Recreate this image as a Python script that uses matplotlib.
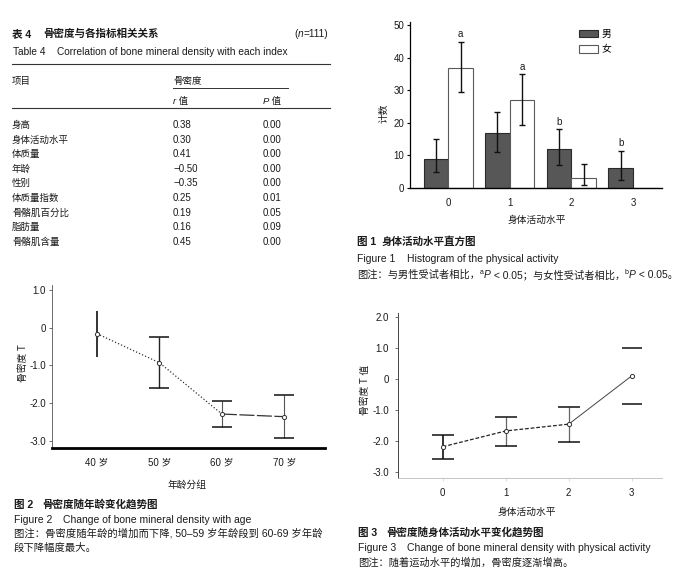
import matplotlib
matplotlib.use('Agg')
import matplotlib.pyplot as plt
from matplotlib.lines import Line2D
import numpy as np

plt.rcParams['font.family'] = ['Liberation Sans', 'Noto Sans CJK SC', 'DejaVu Sans']
plt.rcParams['axes.unicode_minus'] = False

W, H = 685, 581

# ---------------------------------------------------------------
# Données
# ---------------------------------------------------------------
# Tableau 4
tab_items = ['身高', '身体活动水平', '体质量', '年龄', '性别', '体质量指数', '骨骼肌百分比', '脂肪量', '骨骼肌含量']
tab_r = ['0.38', '0.30', '0.41', '−0.50', '−0.35', '0.25', '0.19', '0.16', '0.45']
tab_p = ['0.00', '0.00', '0.00', '0.00', '0.00', '0.01', '0.05', '0.09', '0.00']

# Figure 1 : histogramme
act_levels = ['0', '1', '2', '3']
male_cnt = np.array([9, 17, 12, 6])
male_lo = np.array([5, 11, 7, 2.5])
male_hi = np.array([15, 23.5, 18, 11.5])
female_cnt = np.array([37, 27, 3, 0])
female_lo = np.array([29.5, 19.5, 1, np.nan])
female_hi = np.array([45, 35, 7.5, np.nan])
sig_letter = ['a', 'a', 'b', 'b']
sig_series = ['female', 'female', 'male', 'male']
hist_yticks = [0, 10, 20, 30, 40, 50]

# Figure 2 : âge
age_groups = ['40 岁', '50 岁', '60 岁', '70 岁']
age_mean = [-0.16, -0.93, -2.29, -2.36]
age_lo = [-0.77, -1.60, -2.63, -2.93]
age_hi = [0.43, -0.25, -1.95, -1.79]
age_yticks = [1.0, 0, -1.0, -2.0, -3.0]
age_ylabels = ['1.0', '0', '-1.0', '-2.0', '-3.0']

# Figure 3 : activité physique
act_mean = [-2.19, -1.68, -1.46, 0.10]
act_lo = [-2.60, -2.16, -2.05, -0.82]
act_hi = [-1.82, -1.22, -0.90, 0.99]
act_yticks = [2.0, 1.0, 0, -1.0, -2.0, -3.0]
act_ylabels = ['2.0', '1.0', '0', '-1.0', '-2.0', '-3.0']

TXT = '#1a1a1a'
EN = 7.45   # taille des légendes en anglais
NOTE = 7.35

fig = plt.figure(figsize=(W / 100, H / 100), dpi=100)
renderer = fig.canvas.get_renderer()


def px(x, y):
    return x / W, 1 - y / H


def rich(x, y, parts, size=7.3, align='left', **kw):
    # texte composé de morceaux (italique, exposant...) posés à la suite
    texts = []
    cx = x
    for s, opts in parts:
        o = dict(kw)
        o.update(opts)
        fs = o.pop('size', size)
        dy = o.pop('dy', 0)
        t = fig.text(*px(cx, y - dy), s, fontsize=fs, va='baseline', ha='left', color=TXT, **o)
        texts.append((t, dy))
        cx += t.get_window_extent(renderer=renderer).width
    if align == 'right':
        shift = cx - x
        for t, dy in texts:
            tx, ty = t.get_position()
            t.set_position((tx - shift / W, ty))
    return cx


def hline(x0, x1, y, lw=0.8, color='#333333'):
    fig.add_artist(Line2D([x0 / W, x1 / W], [1 - y / H, 1 - y / H], lw=lw, color=color))


# ---------------------------------------------------------------
# Tableau 4
# ---------------------------------------------------------------
fig.text(*px(12, 37), '表 4', fontsize=7.6, fontweight='bold', va='baseline', color=TXT)
fig.text(*px(43, 37), '骨密度与各指标相关关系', fontsize=7.6, fontweight='bold', va='baseline', color=TXT)
rich(328, 37, [('(', {}), ('n', {'style': 'italic'}), ('=111)', {})], align='right')
fig.text(*px(13, 55), 'Table 4', fontsize=7.3, va='baseline', color=TXT)
fig.text(*px(57, 55), 'Correlation of bone mineral density with each index', fontsize=7.3, va='baseline', color=TXT)
hline(12, 330, 64)
fig.text(*px(12, 84), '项目', fontsize=6.8, va='baseline', color=TXT)
fig.text(*px(173, 84), '骨密度', fontsize=6.8, va='baseline', color=TXT)
hline(173, 288, 88, lw=0.7)
rich(173, 104, [('r', {'style': 'italic'}), (' 值', {})], size=6.8)
rich(263, 104, [('P', {'style': 'italic'}), (' 值', {})], size=6.8)
hline(12, 330, 108)

row_y = 128
for item, r, p in zip(tab_items, tab_r, tab_p):
    fig.text(*px(12, row_y), item, fontsize=6.8, va='baseline', color=TXT)
    fig.text(*px(173, row_y), r, fontsize=7.0, va='baseline', color=TXT)
    fig.text(*px(263, row_y), p, fontsize=7.0, va='baseline', color=TXT)
    row_y += 14.6

# ---------------------------------------------------------------
# Figure 1 : histogramme
# ---------------------------------------------------------------
ax1 = fig.add_axes([410 / W, 1 - 188 / H, 252 / W, 166 / H])
x = np.arange(len(act_levels))
bw = 0.4
ax1.bar(x - bw / 2, male_cnt, bw, color='#575757', edgecolor='#2a2a2a', lw=0.8, label='男')
ax1.bar(x + bw / 2, female_cnt, bw, color='white', edgecolor='#5a5a5a', lw=0.8, label='女')
ax1.errorbar(x - bw / 2, male_cnt, yerr=[male_cnt - male_lo, male_hi - male_cnt],
             fmt='none', ecolor='#111111', elinewidth=1.0, capsize=2.5, capthick=1.0)
ax1.errorbar(x + bw / 2, female_cnt, yerr=[female_cnt - female_lo, female_hi - female_cnt],
             fmt='none', ecolor='#111111', elinewidth=1.0, capsize=2.5, capthick=1.0)
for i, (lt, ser) in enumerate(zip(sig_letter, sig_series)):
    if ser == 'male':
        ax1.text(i - bw / 2, male_hi[i] + 2.2, lt, ha='center', va='center', fontsize=7, color=TXT)
    else:
        ax1.text(i + bw / 2, female_hi[i] + 2.2, lt, ha='center', va='center', fontsize=7, color=TXT)
ax1.set_xlim(-0.62, 3.47)
ax1.set_ylim(0, 51)
ax1.set_xticks(x)
ax1.set_xticklabels(act_levels)
ax1.set_yticks(hist_yticks)
ax1.tick_params(axis='x', length=0, pad=7, labelsize=7, labelcolor=TXT)
ax1.tick_params(axis='y', length=2.5, width=0.8, pad=1.5, labelsize=7, labelcolor=TXT)
for s in ['top', 'right']:
    ax1.spines[s].set_visible(False)
ax1.spines['left'].set_linewidth(0.9)
ax1.spines['bottom'].set_linewidth(1.0)
ax1.set_ylabel('计数', fontsize=7, color=TXT, va='center', ha='center')
ax1.yaxis.set_label_coords((383 - 410) / 252, (188 - 113) / 166)
ax1.set_xlabel('身体活动水平', fontsize=7, color=TXT, va='center', ha='center')
ax1.xaxis.set_label_coords((537 - 410) / 252, (188 - 220) / 166)
ax1.legend(loc='upper left', bbox_to_anchor=((579 - 410) / 252, (188 - 29) / 166),
           frameon=False, fontsize=7, handlelength=1.95, handleheight=0.75,
           handletextpad=0.35, labelspacing=0.55, borderpad=0, borderaxespad=0)

rich(357, 245, [('图 1', {'fontweight': 'bold', 'size': 7.6})])
rich(381.5, 245, [('身体活动水平直方图', {'fontweight': 'bold', 'size': 7.6})])
fig.text(*px(357, 262), 'Figure 1', fontsize=EN, va='baseline', color=TXT)
fig.text(*px(407, 262), 'Histogram of the physical activity', fontsize=EN, va='baseline', color=TXT)
rich(357, 278, [('图注：与男性受试者相比，', {}), ('a', {'size': 5, 'dy': 3.5}), ('P', {'style': 'italic'}),
                (' < 0.05；与女性受试者相比，', {}), ('b', {'size': 5, 'dy': 3.5}), ('P', {'style': 'italic'}),
                (' < 0.05。', {})], size=NOTE)

# ---------------------------------------------------------------
# Figure 2 : évolution avec l'âge
# ---------------------------------------------------------------
ax2 = fig.add_axes([52 / W, 1 - 448 / H, 273 / W, 163 / H])
xa = np.arange(len(age_groups))
ax2.plot(xa[:3], age_mean[:3], ls=':', lw=0.9, color='#333333')
ax2.plot(xa[2:], age_mean[2:], ls=(0, (12, 2)), lw=0.9, color='#333333')
age_cap = [0, 7, 7, 7]
age_ecol = ['#111111', '#222222', '#555555', '#555555']
age_elw = [1.2, 1.0, 0.8, 0.8]
for i in range(len(xa)):
    eb = ax2.errorbar(xa[i], age_mean[i], yerr=[[age_mean[i] - age_lo[i]], [age_hi[i] - age_mean[i]]],
                      fmt='none', ecolor='#111111', elinewidth=age_elw[i], capsize=age_cap[i], capthick=1.1)
    eb[2][0].set_color(age_ecol[i])
ax2.plot(xa, age_mean, 'o', ms=3, mfc='white', mec='#333333', mew=0.7)
ax2.set_xlim(-0.72, 3.65)
ax2.set_ylim(-3.19, 1.13)
ax2.set_xticks(xa)
ax2.set_xticklabels(age_groups)
ax2.set_yticks(age_yticks)
ax2.set_yticklabels(age_ylabels)
ax2.tick_params(axis='x', length=0, pad=7, labelsize=7, labelcolor=TXT)
ax2.tick_params(axis='y', length=2, width=0.6, pad=2.5, labelsize=7, labelcolor=TXT, color='#555555')
for s in ['top', 'right']:
    ax2.spines[s].set_visible(False)
ax2.spines['left'].set_linewidth(0.6)
ax2.spines['left'].set_color('#555555')
ax2.spines['bottom'].set_linewidth(2.0)
ax2.spines['bottom'].set_color('black')
ax2.set_ylabel('骨密度 T', fontsize=7, color=TXT, va='center', ha='center')
ax2.yaxis.set_label_coords((23 - 52) / 273, (448 - 363) / 163)
ax2.set_xlabel('年龄分组', fontsize=7, color=TXT, va='center', ha='center')
ax2.xaxis.set_label_coords((187 - 52) / 273, (448 - 485) / 163)

rich(14, 508, [('图 2', {'fontweight': 'bold', 'size': 7.6})])
rich(42.5, 508, [('骨密度随年龄变化趋势图', {'fontweight': 'bold', 'size': 7.6})])
fig.text(*px(14, 523), 'Figure 2', fontsize=EN, va='baseline', color=TXT)
fig.text(*px(63, 523), 'Change of bone mineral density with age', fontsize=EN, va='baseline', color=TXT)
rich(14, 537, [('图注：骨密度随年龄的增加而下降, 50–59 岁年龄段到 60-69 岁年龄', {})], size=7.45)
rich(14, 551, [('段下降幅度最大。', {})], size=7.45)

# ---------------------------------------------------------------
# Figure 3 : évolution avec l'activité physique
# ---------------------------------------------------------------
ax3 = fig.add_axes([398 / W, 1 - 478 / H, 264 / W, 165 / H])
xb = np.arange(len(act_levels))
ax3.plot(xb[:3], act_mean[:3], ls=(0, (3, 1.5)), lw=0.9, color='#222222')
ax3.plot(xb[2:], act_mean[2:], ls='-', lw=0.7, color='#444444')
act_ecol = ['#111111', '#666666', '#666666', '#666666']
act_elw = [1.2, 0.9, 0.9, 0.0]
act_cap = [8, 8, 8, 7]
for i in range(len(xb)):
    eb = ax3.errorbar(xb[i], act_mean[i], yerr=[[act_mean[i] - act_lo[i]], [act_hi[i] - act_mean[i]]],
                      fmt='none', ecolor='#111111', elinewidth=1, capsize=act_cap[i], capthick=1.1)
    eb[2][0].set_color(act_ecol[i])
    eb[2][0].set_linewidth(act_elw[i])
ax3.plot(xb, act_mean, 'o', ms=3, mfc='white', mec='#333333', mew=0.7)
ax3.set_xlim(-0.71, 3.48)
ax3.set_ylim(-3.2, 2.13)
ax3.set_xticks(xb)
ax3.set_xticklabels(act_levels)
ax3.set_yticks(act_yticks)
ax3.set_yticklabels(act_ylabels)
ax3.tick_params(axis='x', length=2, width=0.5, color='#cccccc', pad=5.5, labelsize=7, labelcolor=TXT)
ax3.tick_params(axis='y', length=2, width=0.6, pad=4.5, labelsize=7, labelcolor=TXT, color='#555555')
for s in ['top', 'right']:
    ax3.spines[s].set_visible(False)
ax3.spines['left'].set_linewidth(0.7)
ax3.spines['left'].set_color('#444444')
ax3.spines['bottom'].set_linewidth(0.6)
ax3.spines['bottom'].set_color('#bbbbbb')
ax3.set_ylabel('骨密度 T 值', fontsize=7, color=TXT, va='center', ha='center')
ax3.yaxis.set_label_coords((365 - 398) / 264, (478 - 390) / 165)
ax3.set_xlabel('身体活动水平', fontsize=7, color=TXT, va='center', ha='center')
ax3.xaxis.set_label_coords((527 - 398) / 264, (478 - 512) / 165)

rich(358, 536, [('图 3', {'fontweight': 'bold', 'size': 7.6})])
rich(386, 536, [('骨密度随身体活动水平变化趋势图', {'fontweight': 'bold', 'size': 7.6})])
fig.text(*px(358, 551), 'Figure 3', fontsize=EN, va='baseline', color=TXT)
fig.text(*px(407, 551), 'Change of bone mineral density with physical activity', fontsize=EN, va='baseline', color=TXT)
rich(358, 566, [('图注：随着运动水平的增加，骨密度逐渐增高。', {})], size=NOTE)

fig.savefig('out.png', dpi=100)
